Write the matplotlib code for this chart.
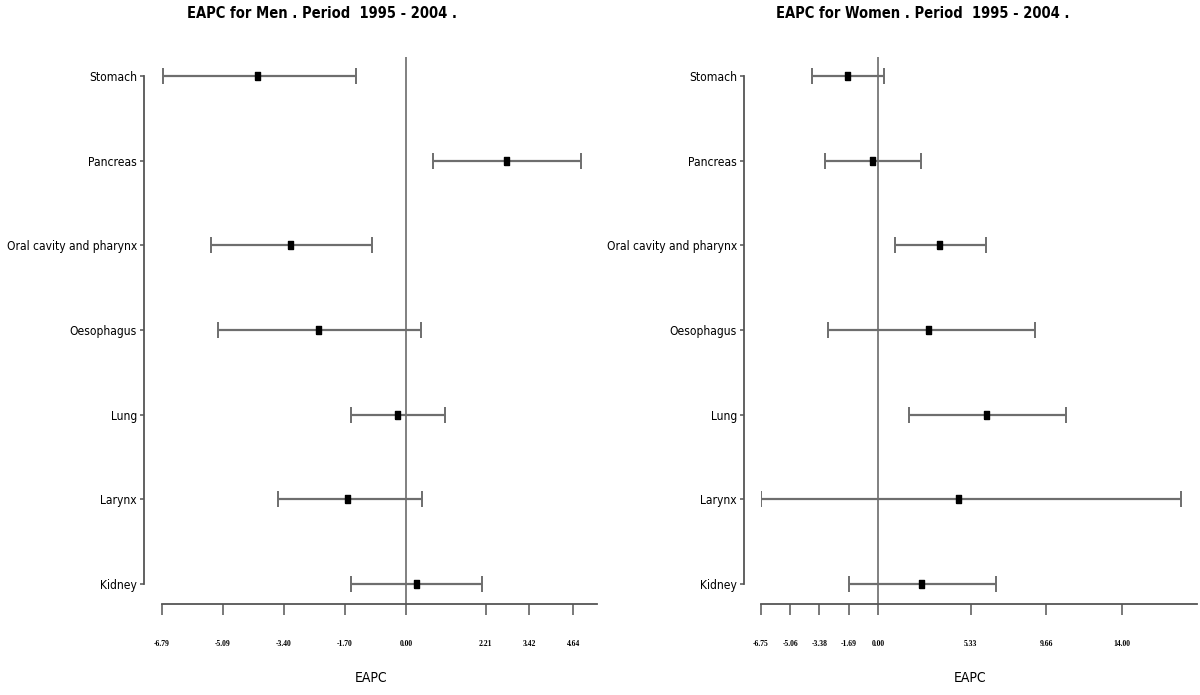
import matplotlib
matplotlib.use("Agg")
import matplotlib.pyplot as plt
from matplotlib import font_manager as fm

# categories top to bottom
sites = ["Stomach", "Pancreas", "Oral cavity and pharynx", "Oesophagus", "Lung", "Larynx", "Kidney"]

# men: EAPC with lower / upper limits
men_eapc = [-4.14, 2.76, -3.23, -2.46, -0.25, -1.63, 0.27]
men_low = [-6.76, 0.75, -5.41, -5.23, -1.53, -3.57, -1.52]
men_high = [-1.40, 4.86, -0.96, 0.40, 1.07, 0.44, 2.11]
men_ticks = [-6.79, -5.09, -3.40, -1.70, 0.00, 2.21, 3.42, 4.64]

# women
women_eapc = [-1.78, -0.36, 3.51, 2.87, 6.17, 4.58, 2.44]
women_low = [-3.79, -3.05, 0.94, -2.87, 1.80, -6.74, -1.67]
women_high = [0.34, 2.45, 6.19, 9.02, 10.77, 17.40, 6.76]
women_ticks = [-6.75, -5.06, -3.38, -1.69, 0.00, 5.33, 9.66, 14.00]

W, H = 1200, 695

# the original uses a narrow sans, take the closest one that is installed
fonts = fm.fontManager.ttflist
names = {f.name for f in fonts}
stretch = "normal"
if "Liberation Sans Narrow" in names:
    sans = ["Liberation Sans Narrow", "DejaVu Sans"]
elif any(f.name == "DejaVu Sans" and "condensed" in str(f.stretch) for f in fonts):
    sans = ["DejaVu Sans"]
    stretch = "condensed"
elif "Liberation Sans" in names:
    sans = ["Liberation Sans", "DejaVu Sans"]
else:
    sans = ["DejaVu Sans"]
txt = dict(family=sans, fontstretch=stretch)

fig = plt.figure(figsize=(W / 100, H / 100), dpi=100)

# tall box marker
box = [(-0.6, -1), (0.6, -1), (0.6, 1), (-0.6, 1), (-0.6, -1)]


def panel(x0, x1, xlim, eapc, low, high, ticks, title, title_x, outward_px):
    ax = fig.add_axes([x0 / W, (H - 604) / H, (x1 - x0) / W, 547 / H])
    n = len(sites)
    ys = [n - 1 - i for i in range(n)]
    err = [[e - l for e, l in zip(eapc, low)], [h - e for e, h in zip(eapc, high)]]
    ax.axvline(0, color="#808080", lw=1.4, zorder=1)
    ax.errorbar(eapc, ys, xerr=err, fmt="none", ecolor="#6e6e6e", elinewidth=1.6,
                capsize=5.8, capthick=1.4, zorder=2)
    ax.plot(eapc, ys, ls="none", marker=box, ms=6, color="black", zorder=3)
    ax.set_xlim(*xlim)
    ax.set_ylim(-0.236, 6.224)
    for s in ["top", "right"]:
        ax.spines[s].set_visible(False)
    ax.spines["left"].set_position(("outward", outward_px * 0.72))
    ax.spines["left"].set_bounds(0, n - 1)
    for s in ["left", "bottom"]:
        ax.spines[s].set_color("#555555")
        ax.spines[s].set_linewidth(1.3)
    ax.tick_params(axis="y", length=3, width=1.1, color="#555555", pad=2)
    ax.tick_params(axis="x", length=8, width=1.1, color="#555555", pad=18)
    ax.set_yticks(ys)
    ax.set_yticklabels(sites, fontsize=9.5, **txt)
    ax.set_xticks(ticks)
    ax.set_xticklabels(["%.2f" % t for t in ticks], family=["Liberation Serif", "DejaVu Serif"],
                       fontsize=5.5, fontweight="bold")
    ax.set_xlabel("EAPC", fontsize=10, **txt)
    ax.xaxis.set_label_coords(0.481, -0.122)
    fig.text(title_x / W, 1 - 14 / H, title, fontsize=10.5, fontweight="bold",
             ha="center", va="center", **txt)
    return ax


axes = [
    panel(161.7, 597, (-6.79, 5.30), men_eapc, men_low, men_high, men_ticks,
          "EAPC for Men . Period  1995 - 2004 .", 322, 17.7),
    panel(760.7, 1197, (-6.75, 18.32), women_eapc, women_low, women_high, women_ticks,
          "EAPC for Women . Period  1995 - 2004 .", 923, 16.7),
]

# shrink the category labels if the long one would run off the left edge
fig.canvas.draw()
r = fig.canvas.get_renderer()
left = min(t.get_window_extent(r).x0 for t in axes[0].get_yticklabels())
if left < 4:
    right = max(t.get_window_extent(r).x1 for t in axes[0].get_yticklabels())
    size = 9.5 * (right - 6) / (right - left)
    for ax in axes:
        for t in ax.get_yticklabels():
            t.set_fontsize(size)

fig.savefig("out.png", dpi=100)
